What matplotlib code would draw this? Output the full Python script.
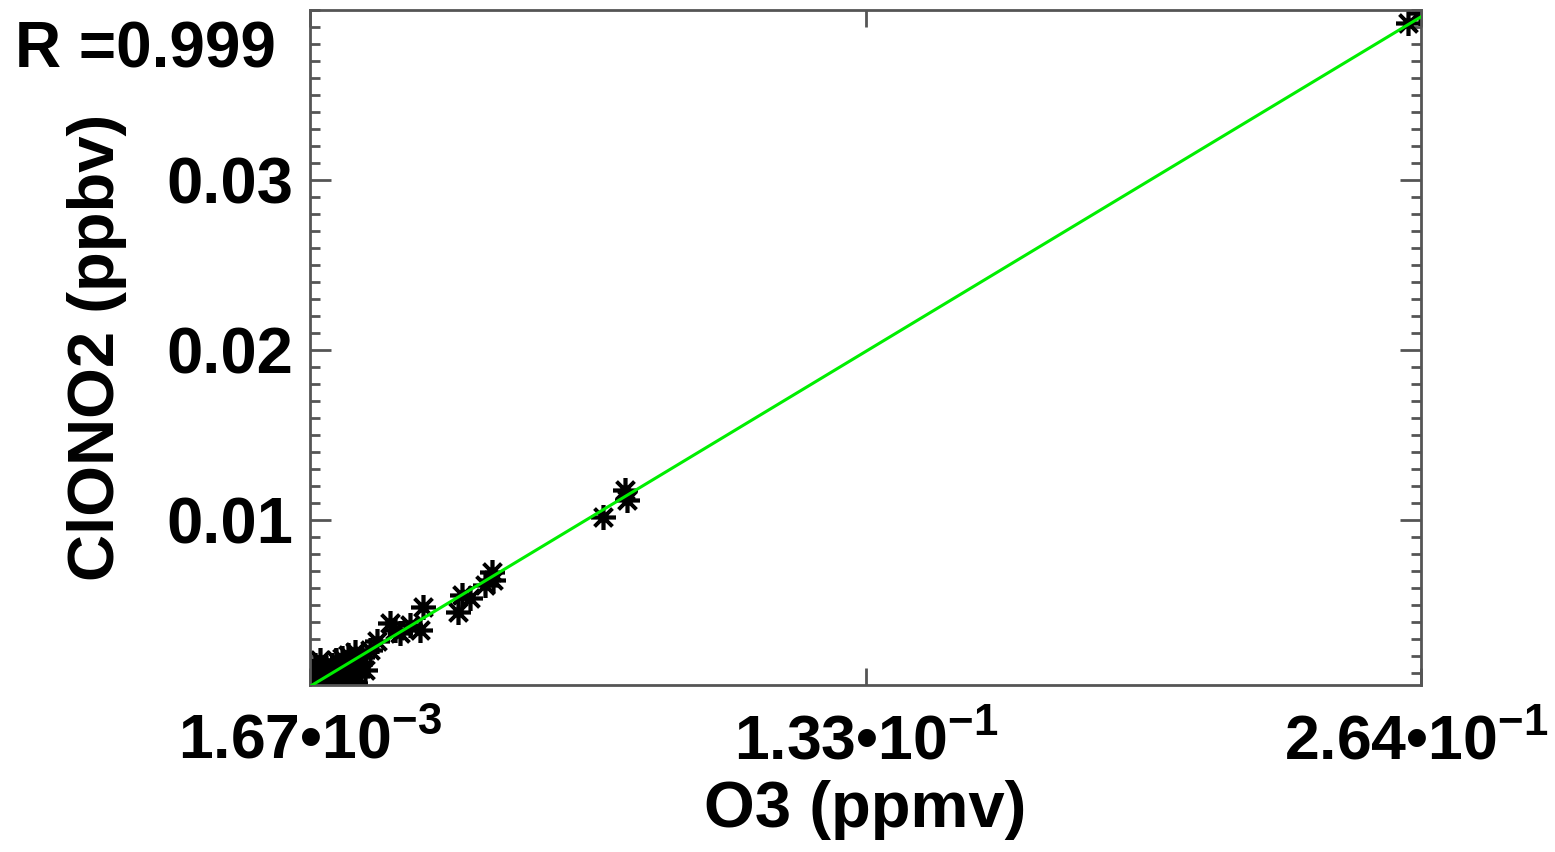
import numpy as np
import matplotlib
matplotlib.use("Agg")
import matplotlib.pyplot as plt
import matplotlib.transforms as mtransforms
from matplotlib.ticker import FixedLocator, MultipleLocator

plt.rcParams['font.family'] = ['Liberation Sans', 'DejaVu Sans']
plt.rcParams['font.weight'] = 'bold'
plt.rcParams['mathtext.fontset'] = 'custom'
plt.rcParams['mathtext.rm'] = 'Liberation Sans:bold'
plt.rcParams['mathtext.it'] = 'Liberation Sans:bold'
plt.rcParams['mathtext.bf'] = 'Liberation Sans:bold'
plt.rcParams['mathtext.default'] = 'bf'

# ---- data ----
o3 = [0.00238, 0.00309, 0.00356, 0.00403, 0.00450, 0.00498, 0.00545, 0.00592,
      0.00639, 0.00686, 0.00734, 0.00781, 0.00828, 0.00875, 0.00923, 0.00970,
      0.01017, 0.01064, 0.01111, 0.01159, 0.01229, 0.01277, 0.01348, 0.01395,
      0.01466, 0.00285, 0.00403, 0.00993, 0.01229, 0.00214, 0.01584, 0.01749,
      0.02056, 0.02174, 0.02292, 0.02528, 0.02764, 0.02835, 0.03661, 0.03756,
      0.03945, 0.04299, 0.04464, 0.04488, 0.07085, 0.07604, 0.07651, 0.2609,
      0.2637]
clono2 = [0.00042, 0.00059, 0.00083, 0.00036, 0.00106, 0.00065, 0.00130, 0.00083,
          0.00047, 0.00147, 0.00106, 0.00177, 0.00071, 0.00130, 0.00189, 0.00094,
          0.00153, 0.00206, 0.00118, 0.00171, 0.00224, 0.00083, 0.00153, 0.00194,
          0.00118, 0.00147, 0.00177, 0.00047, 0.00042, 0.00106, 0.00236, 0.00289,
          0.00394, 0.00353, 0.00336, 0.00383, 0.00353, 0.00488, 0.00459, 0.00559,
          0.00541, 0.00618, 0.00694, 0.00647, 0.01018, 0.01176, 0.01118, 0.03922,
          0.03981]
x_ticks = [0.00167, 0.133, 0.264]
x_tick_labels = ['1.67•10$^{-3}$', '1.33•10$^{-1}$', '2.64•10$^{-1}$']
y_ticks = [0.01, 0.02, 0.03]
y_tick_labels = ['0.01', '0.02', '0.03']
x_limits = (0.00167, 0.264)
y_limits = (0.0003, 0.0400)
r_text = 'R =0.999'

# ---- figure ----
fig = plt.figure(figsize=(15.55, 8.52), dpi=100)
ax = fig.add_axes([310/1555, 1-685/852, (1421-310)/1555, (685-10)/852])

ax.plot(o3, clono2, linestyle='none', marker=(8, 2, 0), markersize=18,
        markeredgewidth=2.6, color='black', zorder=2)

coef = np.polyfit(o3, clono2, 1)
xl = np.array(x_limits)
ax.plot(xl, np.polyval(coef, xl), color='#00ee00', linewidth=2.2, zorder=3)

ax.set_xlim(*x_limits)
ax.set_ylim(*y_limits)

ax.xaxis.set_major_locator(FixedLocator(x_ticks))
ax.set_xticklabels(x_tick_labels)
ax.yaxis.set_major_locator(FixedLocator(y_ticks))
ax.set_yticklabels(y_tick_labels)
ax.yaxis.set_minor_locator(MultipleLocator(0.001))

spine_col = '#555555'
for s in ax.spines.values():
    s.set_color(spine_col)
    s.set_linewidth(2.0)

ax.tick_params(axis='both', which='both', direction='in', colors=spine_col,
               top=True, right=True, labelcolor='black', width=2)
ax.tick_params(axis='x', which='major', length=12, pad=20, labelsize=45)
ax.tick_params(axis='y', which='major', length=15, pad=12, labelsize=47)
ax.tick_params(axis='y', which='minor', length=7)
for lab in ax.get_xticklabels() + ax.get_yticklabels():
    lab.set_fontweight('bold')

# nudge the right-most x label slightly left so it stays inside the figure
last = ax.get_xticklabels()[-1]
last.set_transform(last.get_transform() +
                   mtransforms.ScaledTranslation(-5/100, 0, fig.dpi_scale_trans))

ax.set_xlabel('O3 (ppmv)', fontsize=47, fontweight='bold', labelpad=6)
ax.set_ylabel('ClONO2 (ppbv)', fontsize=47, fontweight='bold', labelpad=28)

fig.text(15/1555, 1-67/852, r_text, fontsize=46, fontweight='bold',
         ha='left', va='baseline')

fig.savefig('out.png', dpi=100)
